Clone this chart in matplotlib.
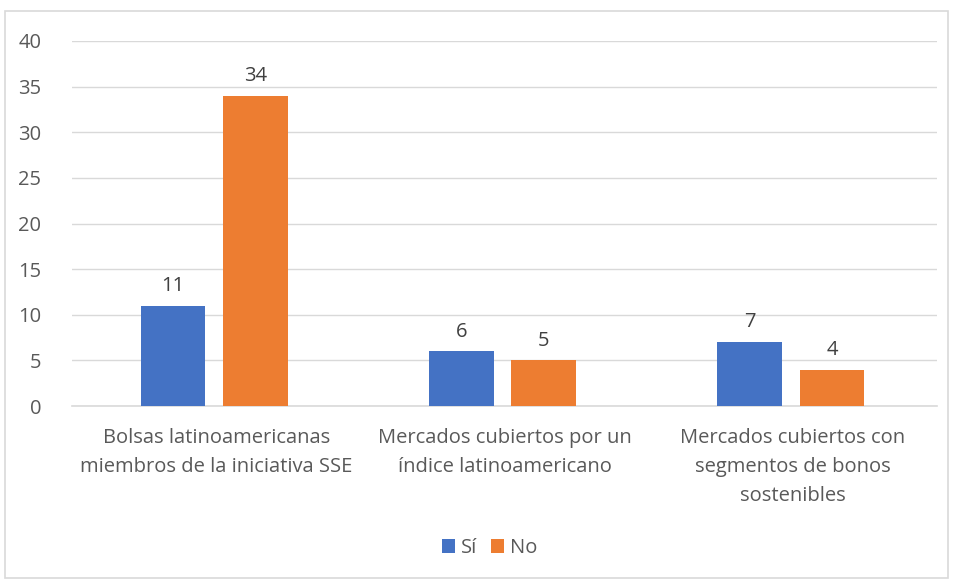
import matplotlib.pyplot as plt
import numpy as np
from matplotlib.patches import Rectangle

plt.rcParams['font.family'] = ['Open Sans', 'DejaVu Sans']

categories = ['Bolsas latinoamericanas\nmiembros de la iniciativa SSE',
              'Mercados cubiertos por un\níndice latinoamericano',
              'Mercados cubiertos con\nsegmentos de bonos\nsostenibles']
si_values = [11, 6, 7]
no_values = [34, 5, 4]
series_names = ['Sí', 'No']
y_ticks = [0, 5, 10, 15, 20, 25, 30, 35, 40]

blue = '#4472C4'
orange = '#ED7D31'
text_color = '#595959'
fs = 14.5

fig = plt.figure(figsize=(9.54, 5.81), dpi=100)
# light chart border
fig.patches.append(Rectangle((5 / 954, 3 / 581), 943 / 954, 567 / 581,
                             transform=fig.transFigure, fill=False,
                             edgecolor='#D9D9D9', linewidth=1.2))

ax = fig.add_axes([72 / 954, 175 / 581, 865 / 954, 365 / 581])

x = np.arange(len(categories))
w = 0.224
half = 0.143
shift = -0.007
bars_si = ax.bar(x - half + shift, si_values, w, color=blue, label=series_names[0], zorder=3)
bars_no = ax.bar(x + half + shift, no_values, w, color=orange, label=series_names[1], zorder=3)

for bars in (bars_si, bars_no):
    for b in bars:
        ax.annotate(f'{int(b.get_height())}', (b.get_x() + b.get_width() / 2, b.get_height()),
                    xytext=(0, 7), textcoords='offset points',
                    ha='center', va='bottom', fontsize=fs, color='#404040')

ax.set_xlim(-0.5, len(categories) - 0.5)
ax.set_ylim(0, 40)
ax.set_yticks(y_ticks)
ax.yaxis.grid(True, color='#D9D9D9', linewidth=1, zorder=0)
ax.set_xticks(x)
ax.set_xticklabels(categories, fontsize=fs, color=text_color, linespacing=1.6)
ax.tick_params(axis='x', length=0, pad=16)
ax.tick_params(axis='y', length=0, pad=22, labelsize=fs, labelcolor=text_color)
for side in ('top', 'right', 'left'):
    ax.spines[side].set_visible(False)
ax.spines['bottom'].set_color('#D9D9D9')
ax.spines['bottom'].set_linewidth(1.2)

fig.legend(loc='center', bbox_to_anchor=(489.5 / 954, 33 / 581), ncol=2, frameon=False,
           fontsize=fs, labelcolor=text_color, handlelength=0.65, handleheight=0.65,
           handletextpad=0.3, columnspacing=0.7)

fig.savefig('out.png', dpi=100)
